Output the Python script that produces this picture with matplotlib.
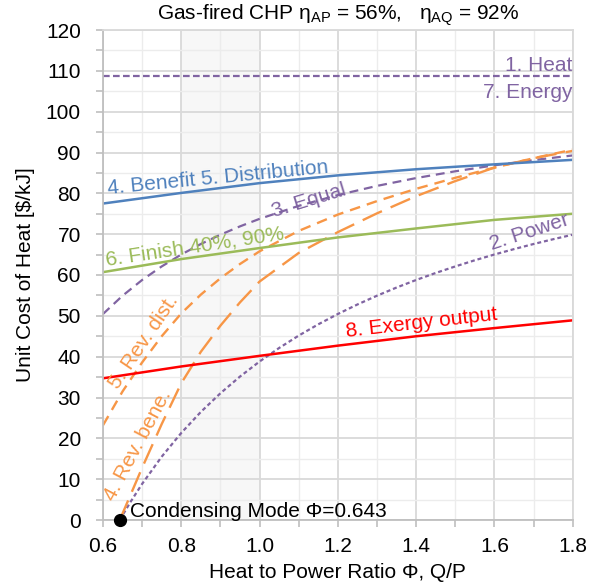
import matplotlib
matplotlib.use("Agg")
import matplotlib.pyplot as plt
from matplotlib.ticker import MultipleLocator

plt.rcParams["font.family"] = ["Liberation Sans", "DejaVu Sans"]
plt.rcParams["mathtext.fontset"] = "custom"
plt.rcParams["mathtext.rm"] = "Liberation Sans"
plt.rcParams["mathtext.it"] = "Liberation Sans:italic"

# heat-to-power ratio grids
phi = [0.6, 0.65, 0.7, 0.75, 0.8, 0.85, 0.9, 0.95, 1.0, 1.1, 1.2, 1.3, 1.4, 1.5, 1.6, 1.7, 1.8]
phi_lin = [0.6, 0.8, 1.0, 1.2, 1.4, 1.6, 1.8]
phi_cond = [0.643, 0.65, 0.67, 0.7, 0.75, 0.8, 0.85, 0.9, 0.95, 1.0, 1.05, 1.1, 1.15, 1.2,
            1.25, 1.3, 1.35, 1.4, 1.45, 1.5, 1.55, 1.6, 1.65, 1.7, 1.75, 1.8]
phi_bene = [0.643, 0.65, 0.7, 0.75, 0.8, 0.85, 0.9, 0.95, 1.0, 1.1, 1.2, 1.3, 1.4, 1.5, 1.6, 1.7, 1.8]
phi_ends = [0.6, 1.8]

# unit cost of heat [$/kJ] by allocation method
heat_energy = [108.7, 108.7]
power = [0.0, 1.17, 4.38, 8.85, 15.51, 21.33, 26.47, 31.04, 35.13, 38.81, 42.13, 45.16, 47.92,
         50.45, 52.78, 54.93, 56.93, 58.78, 60.50, 62.10, 63.61, 65.02, 66.34, 67.59, 68.76, 69.87]
equal = [50.45, 54.93, 58.78, 62.10, 65.02, 67.59, 69.87, 71.91, 73.75, 76.93, 79.58, 81.82,
         83.74, 85.40, 86.86, 88.14, 89.28]
rev_dist = [23.2, 31.5, 38.6, 45.0, 50.6, 55.2, 59.2, 62.7, 65.8, 70.8, 74.8, 78.1, 81.1,
            83.8, 86.3, 88.6, 90.7]
rev_bene = [0.0, 1.6, 12.8, 23.5, 33.5, 41.2, 47.6, 53.3, 58.4, 65.4, 70.5, 75.1, 79.3,
            83.0, 86.3, 88.6, 90.4]
benefit_dist = [77.5, 80.1, 82.5, 84.4, 85.9, 87.1, 88.2]
finish = [60.7, 63.9, 66.6, 69.2, 71.4, 73.5, 75.0]
exergy = [34.7, 37.6, 40.2, 42.7, 45.0, 47.0, 48.9]

phi_condensing = 0.643

PURPLE = "#8064a2"
BLUE = "#4f81bd"
GREEN = "#9bbb59"
ORANGE = "#f79646"
RED = "#ff0000"
FS = 15

fig = plt.figure(figsize=(5.96, 5.86), dpi=100)
ax = fig.add_axes([103 / 596, 66 / 586, 469.7 / 596, 490 / 586])

ax.axvspan(0.8, 1.0, color="#f7f7f7", zorder=0, lw=0)

ax.plot(phi_ends, heat_energy, color=PURPLE, lw=1.6, dashes=(3, 1.5))
ax.plot(phi_cond, power, color=PURPLE, lw=1.6, dashes=(1.8, 1.3))
ax.plot(phi, equal, color=PURPLE, lw=1.6, dashes=(4, 2.6))
ax.plot(phi, rev_dist, color=ORANGE, lw=1.7, dashes=(4.5, 3))
ax.plot(phi_bene, rev_bene, color=ORANGE, lw=1.7, dashes=(9, 4))
ax.plot(phi_lin, benefit_dist, color=BLUE, lw=1.8)
ax.plot(phi_lin, finish, color=GREEN, lw=1.8)
ax.plot(phi_lin, exergy, color=RED, lw=1.8)

ax.plot([phi_condensing], [0], "o", color="black", ms=8.5, clip_on=False, zorder=10)
ax.text(0.669, 0.8, f"Condensing Mode \u03a6={phi_condensing}", fontsize=FS, color="black")

# curve labels
ax.text(1.8, 109.9, "1. Heat", color=PURPLE, fontsize=FS, ha="right", va="baseline")
ax.text(1.8, 107.0, "7. Energy", color=PURPLE, fontsize=FS, ha="right", va="top")
ax.text(0.613, 79.9, "4. Benefit 5. Distribution", color=BLUE, fontsize=FS,
        rotation=5.5, rotation_mode="anchor", ha="left", va="baseline")
ax.text(0.609, 62.3, "6. Finish 40%, 90%", color=GREEN, fontsize=FS,
        rotation=8.5, rotation_mode="anchor", ha="left", va="baseline")
ax.text(1.125, 78.3, "3. Equal", color=PURPLE, fontsize=FS,
        rotation=17, rotation_mode="anchor", ha="center", va="center")
ax.text(1.593, 66.0, "2. Power", color=PURPLE, fontsize=FS,
        rotation=18, rotation_mode="anchor", ha="left", va="baseline")
ax.text(1.222, 44.9, "8. Exergy output", color=RED, fontsize=FS,
        rotation=6.5, rotation_mode="anchor", ha="left", va="baseline")
ax.text(0.704, 43.5, "5. Rev. dist.", color=ORANGE, fontsize=FS,
        rotation=56, rotation_mode="anchor", ha="center", va="center")
ax.text(0.689, 18.3, "4. Rev. bene.", color=ORANGE, fontsize=FS,
        rotation=62, rotation_mode="anchor", ha="center", va="center")

ax.set_xlim(0.6, 1.8)
ax.set_ylim(0, 120)
ax.xaxis.set_major_locator(MultipleLocator(0.2))
ax.xaxis.set_minor_locator(MultipleLocator(0.1))
ax.yaxis.set_major_locator(MultipleLocator(10))
ax.yaxis.set_minor_locator(MultipleLocator(5))
ax.xaxis.set_major_formatter(lambda v, pos: f"{v:.1f}")

ax.grid(which="major", color="#d9d9d9", lw=1.3, zorder=0.5)
ax.grid(which="minor", color="#ececec", lw=1.0, zorder=0.4)
ax.set_axisbelow(True)

for side in ("left", "bottom"):
    ax.spines[side].set_color("#bfbfbf")
    ax.spines[side].set_linewidth(1.3)
for side in ("top", "right"):
    ax.spines[side].set_color("#d9d9d9")
    ax.spines[side].set_linewidth(1.3)

ax.tick_params(which="both", direction="out", length=5, width=1.2, color="#bfbfbf",
               labelsize=FS, labelcolor="black")
ax.tick_params(axis="y", which="both", pad=11)
ax.tick_params(axis="x", which="both", pad=7)

ax.set_xlabel("Heat to Power Ratio \u03a6, Q/P", fontsize=FS, va="center")
ax.set_ylabel(r"Unit Cost of Heat [\$/kJ]", fontsize=FS, va="center")
ax.xaxis.set_label_coords(0.5, -0.108)
ax.yaxis.set_label_coords(-0.166, 0.5)

fig.text(338 / 596, 0.974, r"Gas-fired CHP η$_{\mathrm{AP}}$ = 56%,   η$_{\mathrm{AQ}}$ = 92%",
         fontsize=FS, ha="center", va="center")

fig.savefig("out.png", dpi=100)
